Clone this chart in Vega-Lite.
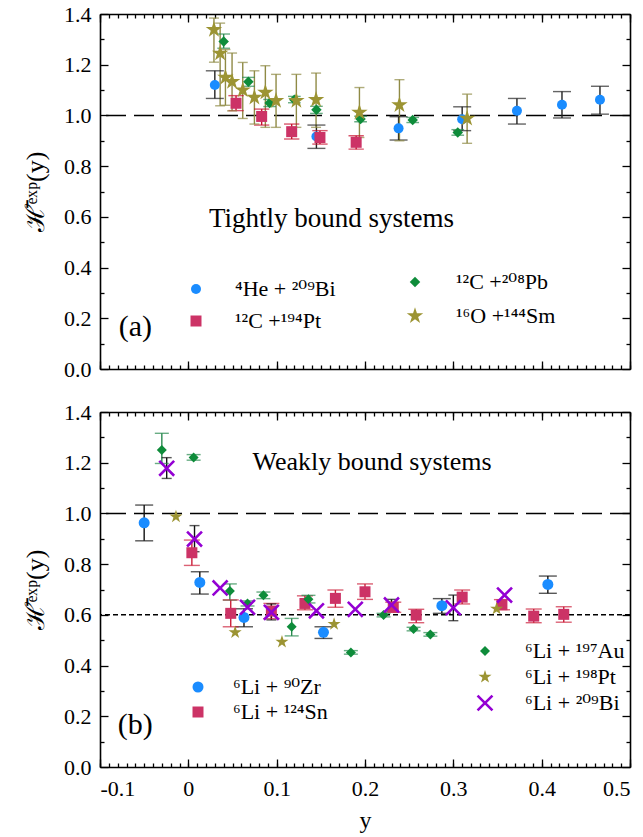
{
  "$schema": "https://vega.github.io/schema/vega-lite/v6.json",
  "padding": {"left": 22, "top": 3, "right": 12, "bottom": 8},
  "spacing": 43,
  "bounds": "flush",
  "config": {
    "font": "Liberation Serif, DejaVu Serif",
    "view": {"stroke": null},
    "axis": {"labelFont": "Liberation Serif", "labelFontSize": 22, "labelColor": "black", "titleFont": "Liberation Serif, DejaVu Serif", "titleColor": "black", "titleFontWeight": "normal", "domainColor": "black", "domainWidth": 1.6, "tickColor": "black", "tickWidth": 1.3, "grid": false},
    "legend": {"labelFont": "Liberation Serif, DejaVu Serif", "labelFontSize": 22, "labelColor": "black", "padding": 0}
  },
  "datasets": {
    "top": [
      {"sys": "⁴He + ²⁰⁹Bi", "x": 0.030, "y": 1.12, "lo": 1.067, "hi": 1.176},
      {"sys": "⁴He + ²⁰⁹Bi", "x": 0.145, "y": 0.917, "lo": 0.870, "hi": 0.962},
      {"sys": "⁴He + ²⁰⁹Bi", "x": 0.238, "y": 0.949, "lo": 0.903, "hi": 0.995},
      {"sys": "⁴He + ²⁰⁹Bi", "x": 0.310, "y": 0.985, "lo": 0.940, "hi": 1.034},
      {"sys": "⁴He + ²⁰⁹Bi", "x": 0.372, "y": 1.018, "lo": 0.966, "hi": 1.067},
      {"sys": "⁴He + ²⁰⁹Bi", "x": 0.423, "y": 1.042, "lo": 0.990, "hi": 1.094},
      {"sys": "⁴He + ²⁰⁹Bi", "x": 0.466, "y": 1.062, "lo": 1.005, "hi": 1.115},
      {"sys": "¹²C +¹⁹⁴Pt", "x": 0.054, "y": 1.048, "lo": 1.019, "hi": 1.078},
      {"sys": "¹²C +¹⁹⁴Pt", "x": 0.083, "y": 0.996, "lo": 0.962, "hi": 1.025},
      {"sys": "¹²C +¹⁹⁴Pt", "x": 0.117, "y": 0.936, "lo": 0.907, "hi": 0.966},
      {"sys": "¹²C +¹⁹⁴Pt", "x": 0.149, "y": 0.913, "lo": 0.887, "hi": 0.940},
      {"sys": "¹²C +¹⁹⁴Pt", "x": 0.190, "y": 0.894, "lo": 0.867, "hi": 0.920},
      {"sys": "¹²C +²⁰⁸Pb", "x": 0.040, "y": 1.292, "lo": 1.265, "hi": 1.321},
      {"sys": "¹²C +²⁰⁸Pb", "x": 0.068, "y": 1.133, "lo": 1.115, "hi": 1.150},
      {"sys": "¹²C +²⁰⁸Pb", "x": 0.092, "y": 1.049, "lo": 1.035, "hi": 1.063},
      {"sys": "¹²C +²⁰⁸Pb", "x": 0.120, "y": 1.062, "lo": 1.050, "hi": 1.075},
      {"sys": "¹²C +²⁰⁸Pb", "x": 0.145, "y": 1.022, "lo": 1.008, "hi": 1.036},
      {"sys": "¹²C +²⁰⁸Pb", "x": 0.195, "y": 0.986, "lo": 0.975, "hi": 0.997},
      {"sys": "¹²C +²⁰⁸Pb", "x": 0.254, "y": 0.982, "lo": 0.972, "hi": 0.992},
      {"sys": "¹²C +²⁰⁸Pb", "x": 0.305, "y": 0.933, "lo": 0.922, "hi": 0.944},
      {"sys": "¹⁶O +¹⁴⁴Sm", "x": 0.029, "y": 1.338, "lo": 1.210, "hi": 1.384},
      {"sys": "¹⁶O +¹⁴⁴Sm", "x": 0.036, "y": 1.245, "lo": 1.038, "hi": 1.364},
      {"sys": "¹⁶O +¹⁴⁴Sm", "x": 0.042, "y": 1.150, "lo": 1.040, "hi": 1.260},
      {"sys": "¹⁶O +¹⁴⁴Sm", "x": 0.0495, "y": 1.133, "lo": 1.018, "hi": 1.246},
      {"sys": "¹⁶O +¹⁴⁴Sm", "x": 0.0616, "y": 1.100, "lo": 0.988, "hi": 1.209},
      {"sys": "¹⁶O +¹⁴⁴Sm", "x": 0.0748, "y": 1.071, "lo": 0.966, "hi": 1.176},
      {"sys": "¹⁶O +¹⁴⁴Sm", "x": 0.0872, "y": 1.091, "lo": 0.953, "hi": 1.196},
      {"sys": "¹⁶O +¹⁴⁴Sm", "x": 0.0993, "y": 1.058, "lo": 0.953, "hi": 1.162},
      {"sys": "¹⁶O +¹⁴⁴Sm", "x": 0.1223, "y": 1.058, "lo": 0.953, "hi": 1.162},
      {"sys": "¹⁶O +¹⁴⁴Sm", "x": 0.1446, "y": 1.062, "lo": 0.953, "hi": 1.167},
      {"sys": "¹⁶O +¹⁴⁴Sm", "x": 0.1937, "y": 1.012, "lo": 0.913, "hi": 1.110},
      {"sys": "¹⁶O +¹⁴⁴Sm", "x": 0.239, "y": 1.041, "lo": 0.900, "hi": 1.141},
      {"sys": "¹⁶O +¹⁴⁴Sm", "x": 0.3156, "y": 0.988, "lo": 0.890, "hi": 1.084}
    ],
    "bottom": [
      {"sys": "⁶Li + ⁹⁰Zr", "x": -0.050, "y": 0.963, "lo": 0.892, "hi": 1.033},
      {"sys": "⁶Li + ⁹⁰Zr", "x": 0.013, "y": 0.728, "lo": 0.682, "hi": 0.770},
      {"sys": "⁶Li + ⁹⁰Zr", "x": 0.063, "y": 0.590, "lo": 0.553, "hi": 0.624},
      {"sys": "⁶Li + ⁹⁰Zr", "x": 0.153, "y": 0.531, "lo": 0.507, "hi": 0.553},
      {"sys": "⁶Li + ⁹⁰Zr", "x": 0.287, "y": 0.636, "lo": 0.606, "hi": 0.664},
      {"sys": "⁶Li + ⁹⁰Zr", "x": 0.407, "y": 0.720, "lo": 0.685, "hi": 0.753},
      {"sys": "⁶Li + ¹²⁴Sn", "x": 0.004, "y": 0.845, "lo": 0.795, "hi": 0.895},
      {"sys": "⁶Li + ¹²⁴Sn", "x": 0.048, "y": 0.606, "lo": 0.553, "hi": 0.659},
      {"sys": "⁶Li + ¹²⁴Sn", "x": 0.094, "y": 0.615, "lo": 0.585, "hi": 0.645},
      {"sys": "⁶Li + ¹²⁴Sn", "x": 0.132, "y": 0.645, "lo": 0.620, "hi": 0.675},
      {"sys": "⁶Li + ¹²⁴Sn", "x": 0.1665, "y": 0.665, "lo": 0.630, "hi": 0.698},
      {"sys": "⁶Li + ¹²⁴Sn", "x": 0.200, "y": 0.691, "lo": 0.661, "hi": 0.722},
      {"sys": "⁶Li + ¹²⁴Sn", "x": 0.232, "y": 0.630, "lo": 0.610, "hi": 0.650},
      {"sys": "⁶Li + ¹²⁴Sn", "x": 0.258, "y": 0.599, "lo": 0.569, "hi": 0.622},
      {"sys": "⁶Li + ¹²⁴Sn", "x": 0.310, "y": 0.670, "lo": 0.643, "hi": 0.698},
      {"sys": "⁶Li + ¹²⁴Sn", "x": 0.355, "y": 0.640, "lo": 0.620, "hi": 0.660},
      {"sys": "⁶Li + ¹²⁴Sn", "x": 0.391, "y": 0.595, "lo": 0.569, "hi": 0.623},
      {"sys": "⁶Li + ¹²⁴Sn", "x": 0.425, "y": 0.602, "lo": 0.571, "hi": 0.632},
      {"sys": "⁶Li + ¹⁹⁷Au", "x": -0.030, "y": 1.250, "lo": 1.197, "hi": 1.316},
      {"sys": "⁶Li + ¹⁹⁷Au", "x": 0.006, "y": 1.221, "lo": 1.210, "hi": 1.232},
      {"sys": "⁶Li + ¹⁹⁷Au", "x": 0.047, "y": 0.694, "lo": 0.658, "hi": 0.722},
      {"sys": "⁶Li + ¹⁹⁷Au", "x": 0.067, "y": 0.645, "lo": 0.635, "hi": 0.655},
      {"sys": "⁶Li + ¹⁹⁷Au", "x": 0.085, "y": 0.677, "lo": 0.664, "hi": 0.690},
      {"sys": "⁶Li + ¹⁹⁷Au", "x": 0.117, "y": 0.553, "lo": 0.517, "hi": 0.586},
      {"sys": "⁶Li + ¹⁹⁷Au", "x": 0.136, "y": 0.662, "lo": 0.647, "hi": 0.677},
      {"sys": "⁶Li + ¹⁹⁷Au", "x": 0.184, "y": 0.452, "lo": 0.445, "hi": 0.459},
      {"sys": "⁶Li + ¹⁹⁷Au", "x": 0.221, "y": 0.599, "lo": 0.592, "hi": 0.606},
      {"sys": "⁶Li + ¹⁹⁷Au", "x": 0.255, "y": 0.544, "lo": 0.537, "hi": 0.551},
      {"sys": "⁶Li + ¹⁹⁷Au", "x": 0.274, "y": 0.523, "lo": 0.516, "hi": 0.530},
      {"sys": "⁶Li + ¹⁹⁸Pt", "x": -0.014, "y": 0.987},
      {"sys": "⁶Li + ¹⁹⁸Pt", "x": 0.053, "y": 0.531},
      {"sys": "⁶Li + ¹⁹⁸Pt", "x": 0.106, "y": 0.493},
      {"sys": "⁶Li + ¹⁹⁸Pt", "x": 0.165, "y": 0.563},
      {"sys": "⁶Li + ¹⁹⁸Pt", "x": 0.349, "y": 0.624},
      {"sys": "⁶Li + ²⁰⁹Bi", "x": -0.0245, "y": 1.178, "lo": 1.138, "hi": 1.220},
      {"sys": "⁶Li + ²⁰⁹Bi", "x": 0.007, "y": 0.899, "lo": 0.849, "hi": 0.952},
      {"sys": "⁶Li + ²⁰⁹Bi", "x": 0.036, "y": 0.706},
      {"sys": "⁶Li + ²⁰⁹Bi", "x": 0.067, "y": 0.630},
      {"sys": "⁶Li + ²⁰⁹Bi", "x": 0.094, "y": 0.610, "lo": 0.580, "hi": 0.643},
      {"sys": "⁶Li + ²⁰⁹Bi", "x": 0.145, "y": 0.616},
      {"sys": "⁶Li + ²⁰⁹Bi", "x": 0.189, "y": 0.622},
      {"sys": "⁶Li + ²⁰⁹Bi", "x": 0.230, "y": 0.639, "lo": 0.615, "hi": 0.661},
      {"sys": "⁶Li + ²⁰⁹Bi", "x": 0.300, "y": 0.628, "lo": 0.577, "hi": 0.678},
      {"sys": "⁶Li + ²⁰⁹Bi", "x": 0.358, "y": 0.678}
    ]
  },
  "vconcat": [
    {
      "width": 530, "height": 355,
      "data": {"name": "top"},
      "resolve": {"scale": {"color": "independent", "shape": "independent", "size": "independent"}, "axis": {"x": "independent", "y": "independent"}},
      "layer": [
        {
          "data": {"values": [{}]},
          "mark": {"type": "rule", "strokeDash": [20, 8], "strokeWidth": 1.6, "color": "black"},
          "encoding": {"y": {"datum": 1, "type": "quantitative", "scale": {"domain": [0, 1.4], "nice": false}, "axis": {"orient": "left", "values": [0, 0.2, 0.4, 0.6, 0.8, 1.0, 1.2, 1.4], "ticks": false, "domain": true, "format": ".1f", "labelPadding": 9, "title": "ℋ̄ᵉˣᵖ(y)", "titleFontSize": 26, "titlePadding": 15}}}
        },
        {
          "transform": [{"filter": "datum.lo != null"}],
          "mark": {"type": "rule", "strokeWidth": 1.4},
          "encoding": {
            "x": {"field": "x", "type": "quantitative", "scale": {"domain": [-0.1, 0.5], "nice": false, "zero": false}, "axis": {"orient": "bottom", "values": [-0.1, 0, 0.1, 0.2, 0.3, 0.4, 0.5], "ticks": false, "domain": true, "labels": false, "title": null}},
            "y": {"field": "lo", "type": "quantitative", "axis": {"orient": "right", "values": [0, 0.2, 0.4, 0.6, 0.8, 1.0, 1.2, 1.4], "tickSize": -8, "domain": true, "labels": false, "title": null}},
            "y2": {"field": "hi"},
            "color": {"field": "sys", "type": "nominal", "scale": {"domain": ["⁴He + ²⁰⁹Bi", "¹²C +¹⁹⁴Pt", "¹²C +²⁰⁸Pb", "¹⁶O +¹⁴⁴Sm"], "range": ["#222222", "#c8102e", "#2a8a50", "#8f8a45"]}, "legend": null}
          }
        },
        {
          "transform": [{"filter": "datum.lo != null"}],
          "mark": {"type": "tick", "orient": "horizontal", "thickness": 1.4},
          "encoding": {
            "x": {"field": "x", "type": "quantitative", "axis": {"orient": "bottom", "values": [-0.1, 0, 0.1, 0.2, 0.3, 0.4, 0.5], "tickSize": -8, "domain": false, "labels": false, "title": null}},
            "y": {"field": "lo", "type": "quantitative", "axis": {"orient": "left", "values": [0, 0.2, 0.4, 0.6, 0.8, 1.0, 1.2, 1.4], "tickSize": -8, "domain": false, "labels": false, "title": null}},
            "color": {"field": "sys", "type": "nominal", "scale": {"domain": ["⁴He + ²⁰⁹Bi", "¹²C +¹⁹⁴Pt", "¹²C +²⁰⁸Pb", "¹⁶O +¹⁴⁴Sm"], "range": ["#222222", "#c8102e", "#2a8a50", "#8f8a45"]}, "legend": null},
            "size": {"field": "sys", "type": "nominal", "scale": {"domain": ["⁴He + ²⁰⁹Bi", "¹²C +¹⁹⁴Pt", "¹²C +²⁰⁸Pb", "¹⁶O +¹⁴⁴Sm"], "range": [18, 10, 8, 10]}, "legend": null}
          }
        },
        {
          "transform": [{"filter": "datum.lo != null"}],
          "mark": {"type": "tick", "orient": "horizontal", "thickness": 1.4},
          "encoding": {
            "x": {"field": "x", "type": "quantitative", "axis": {"orient": "bottom", "values": [-0.1,-0.09,-0.08,-0.07,-0.06,-0.05,-0.04,-0.03,-0.02,-0.01,0,0.01,0.02,0.03,0.04,0.05,0.06,0.07,0.08,0.09,0.1,0.11,0.12,0.13,0.14,0.15,0.16,0.17,0.18,0.19,0.2,0.21,0.22,0.23,0.24,0.25,0.26,0.27,0.28,0.29,0.3,0.31,0.32,0.33,0.34,0.35,0.36,0.37,0.38,0.39,0.4,0.41,0.42,0.43,0.44,0.45,0.46,0.47,0.48,0.49,0.5], "tickSize": -4, "domain": false, "labels": false, "title": null}},
            "y": {"field": "hi", "type": "quantitative", "axis": {"orient": "left", "values": [0.1, 0.3, 0.5, 0.7, 0.9, 1.1, 1.3], "tickSize": -4, "domain": false, "labels": false, "title": null}},
            "color": {"field": "sys", "type": "nominal", "scale": {"domain": ["⁴He + ²⁰⁹Bi", "¹²C +¹⁹⁴Pt", "¹²C +²⁰⁸Pb", "¹⁶O +¹⁴⁴Sm"], "range": ["#222222", "#c8102e", "#2a8a50", "#8f8a45"]}, "legend": null},
            "size": {"field": "sys", "type": "nominal", "scale": {"domain": ["⁴He + ²⁰⁹Bi", "¹²C +¹⁹⁴Pt", "¹²C +²⁰⁸Pb", "¹⁶O +¹⁴⁴Sm"], "range": [18, 10, 8, 10]}, "legend": null}
          }
        },
        {
          "transform": [{"filter": {"field": "sys", "oneOf": ["⁴He + ²⁰⁹Bi", "¹²C +¹⁹⁴Pt"]}}],
          "mark": {"type": "point", "filled": true, "opacity": 1, "strokeWidth": 0},
          "encoding": {
            "x": {"field": "x", "type": "quantitative", "axis": {"orient": "top", "values": [-0.1, 0, 0.1, 0.2, 0.3, 0.4, 0.5], "tickSize": -8, "domain": true, "labels": false, "title": null}},
            "y": {"field": "y", "type": "quantitative", "axis": {"orient": "right", "values": [0.1, 0.3, 0.5, 0.7, 0.9, 1.1, 1.3], "tickSize": -4, "domain": false, "labels": false, "title": null}},
            "color": {"field": "sys", "type": "nominal", "scale": {"domain": ["⁴He + ²⁰⁹Bi", "¹²C +¹⁹⁴Pt"], "range": ["#1a8cff", "#cc3366"]}, "legend": {"orient": "none", "legendX": 85, "legendY": 264, "title": null, "labelOffset": 28, "rowPadding": 10, "symbolStrokeWidth": 0}},
            "shape": {"field": "sys", "type": "nominal", "scale": {"domain": ["⁴He + ²⁰⁹Bi", "¹²C +¹⁹⁴Pt"], "range": ["circle", "square"]}, "legend": {"orient": "none", "legendX": 85, "legendY": 264, "title": null, "labelOffset": 28, "rowPadding": 10, "symbolStrokeWidth": 0}},
            "size": {"field": "sys", "type": "nominal", "scale": {"domain": ["⁴He + ²⁰⁹Bi", "¹²C +¹⁹⁴Pt"], "range": [100, 121]}, "legend": {"orient": "none", "legendX": 85, "legendY": 264, "title": null, "labelOffset": 28, "rowPadding": 10, "symbolStrokeWidth": 0}}
          }
        },
        {
          "transform": [{"filter": {"field": "sys", "oneOf": ["¹²C +²⁰⁸Pb", "¹⁶O +¹⁴⁴Sm"]}}],
          "mark": {"type": "point", "filled": true, "opacity": 1, "strokeWidth": 0},
          "encoding": {
            "x": {"field": "x", "type": "quantitative", "axis": {"orient": "top", "values": [-0.1,-0.09,-0.08,-0.07,-0.06,-0.05,-0.04,-0.03,-0.02,-0.01,0,0.01,0.02,0.03,0.04,0.05,0.06,0.07,0.08,0.09,0.1,0.11,0.12,0.13,0.14,0.15,0.16,0.17,0.18,0.19,0.2,0.21,0.22,0.23,0.24,0.25,0.26,0.27,0.28,0.29,0.3,0.31,0.32,0.33,0.34,0.35,0.36,0.37,0.38,0.39,0.4,0.41,0.42,0.43,0.44,0.45,0.46,0.47,0.48,0.49,0.5], "tickSize": -4, "domain": false, "labels": false, "title": null}},
            "y": {"field": "y", "type": "quantitative", "axis": null},
            "color": {"field": "sys", "type": "nominal", "scale": {"domain": ["¹²C +²⁰⁸Pb", "¹⁶O +¹⁴⁴Sm"], "range": ["#0e8c3a", "#9c9433"]}, "legend": {"orient": "none", "legendX": 304, "legendY": 257, "title": null, "labelOffset": 30, "rowPadding": 12, "symbolStrokeWidth": 0}},
            "shape": {"field": "sys", "type": "nominal", "scale": {"domain": ["¹²C +²⁰⁸Pb", "¹⁶O +¹⁴⁴Sm"], "range": ["diamond", "M0,-1L0.2245,-0.309L0.951,-0.309L0.363,0.118L0.588,0.809L0,0.382L-0.588,0.809L-0.363,0.118L-0.951,-0.309L-0.2245,-0.309Z"]}, "legend": {"orient": "none", "legendX": 304, "legendY": 257, "title": null, "labelOffset": 30, "rowPadding": 12, "symbolStrokeWidth": 0}},
            "size": {"field": "sys", "type": "nominal", "scale": {"domain": ["¹²C +²⁰⁸Pb", "¹⁶O +¹⁴⁴Sm"], "range": [110, 300]}, "legend": {"orient": "none", "legendX": 304, "legendY": 257, "title": null, "labelOffset": 30, "rowPadding": 12, "symbolStrokeWidth": 0}}
          }
        },
        {
          "data": {"values": [{}]},
          "mark": {"type": "text", "fontSize": 27, "color": "black", "align": "center", "baseline": "middle"},
          "encoding": {"x": {"datum": 0.162, "type": "quantitative", "axis": null}, "y": {"datum": 0.59, "type": "quantitative", "axis": null}, "text": {"value": "Tightly bound systems"}}
        },
        {
          "data": {"values": [{}]},
          "mark": {"type": "text", "fontSize": 30, "color": "black", "align": "center", "baseline": "middle"},
          "encoding": {"x": {"datum": -0.06, "type": "quantitative", "axis": null}, "y": {"datum": 0.166, "type": "quantitative", "axis": null}, "text": {"value": "(a)"}}
        }
      ]
    },
    {
      "width": 530, "height": 355,
      "data": {"name": "bottom"},
      "resolve": {"scale": {"color": "independent", "shape": "independent", "size": "independent"}, "axis": {"x": "independent", "y": "independent"}},
      "layer": [
        {
          "data": {"values": [{}]},
          "mark": {"type": "rule", "strokeDash": [20, 8], "strokeWidth": 1.6, "color": "black"},
          "encoding": {"y": {"datum": 1, "type": "quantitative", "scale": {"domain": [0, 1.4], "nice": false}, "axis": {"orient": "left", "values": [0, 0.2, 0.4, 0.6, 0.8, 1.0, 1.2, 1.4], "ticks": false, "domain": true, "format": ".1f", "labelPadding": 9, "title": "ℋ̄ᵉˣᵖ(y)", "titleFontSize": 26, "titlePadding": 15}}}
        },
        {
          "data": {"values": [{}]},
          "mark": {"type": "rule", "strokeDash": [5, 3], "strokeWidth": 1.5, "color": "black"},
          "encoding": {"y": {"datum": 0.6, "type": "quantitative", "axis": null}}
        },
        {
          "transform": [{"filter": "datum.lo != null"}],
          "mark": {"type": "rule", "strokeWidth": 1.4},
          "encoding": {
            "x": {"field": "x", "type": "quantitative", "scale": {"domain": [-0.1, 0.5], "nice": false, "zero": false}, "axis": {"orient": "bottom", "values": [-0.1, 0, 0.1, 0.2, 0.3, 0.4, 0.5], "ticks": false, "domain": true, "labels": true, "labelExpr": "datum.value == 0 ? '0' : (datum.value < 0 ? '-' + format(-datum.value, '.1f') : format(datum.value, '.1f'))", "labelPadding": 11, "title": "y", "titleFontSize": 24, "titlePadding": 9}},
            "y": {"field": "lo", "type": "quantitative", "axis": {"orient": "right", "values": [0, 0.2, 0.4, 0.6, 0.8, 1.0, 1.2, 1.4], "tickSize": -8, "domain": true, "labels": false, "title": null}},
            "y2": {"field": "hi"},
            "color": {"field": "sys", "type": "nominal", "scale": {"domain": ["⁶Li + ⁹⁰Zr", "⁶Li + ¹²⁴Sn", "⁶Li + ¹⁹⁷Au", "⁶Li + ¹⁹⁸Pt", "⁶Li + ²⁰⁹Bi"], "range": ["#111111", "#cc1f3a", "#2a8a50", "#8f8a45", "#111111"]}, "legend": null}
          }
        },
        {
          "transform": [{"filter": "datum.lo != null"}],
          "mark": {"type": "tick", "orient": "horizontal", "thickness": 1.4},
          "encoding": {
            "x": {"field": "x", "type": "quantitative", "axis": {"orient": "bottom", "values": [-0.1, 0, 0.1, 0.2, 0.3, 0.4, 0.5], "tickSize": -8, "domain": false, "labels": false, "title": null}},
            "y": {"field": "lo", "type": "quantitative", "axis": {"orient": "left", "values": [0, 0.2, 0.4, 0.6, 0.8, 1.0, 1.2, 1.4], "tickSize": -8, "domain": false, "labels": false, "title": null}},
            "color": {"field": "sys", "type": "nominal", "scale": {"domain": ["⁶Li + ⁹⁰Zr", "⁶Li + ¹²⁴Sn", "⁶Li + ¹⁹⁷Au", "⁶Li + ¹⁹⁸Pt", "⁶Li + ²⁰⁹Bi"], "range": ["#111111", "#cc1f3a", "#2a8a50", "#8f8a45", "#111111"]}, "legend": null},
            "size": {"field": "sys", "type": "nominal", "scale": {"domain": ["⁶Li + ⁹⁰Zr", "⁶Li + ¹²⁴Sn", "⁶Li + ¹⁹⁷Au", "⁶Li + ¹⁹⁸Pt", "⁶Li + ²⁰⁹Bi"], "range": [18, 10, 8, 10, 9]}, "legend": null}
          }
        },
        {
          "transform": [{"filter": "datum.lo != null"}],
          "mark": {"type": "tick", "orient": "horizontal", "thickness": 1.4},
          "encoding": {
            "x": {"field": "x", "type": "quantitative", "axis": {"orient": "bottom", "values": [-0.1,-0.09,-0.08,-0.07,-0.06,-0.05,-0.04,-0.03,-0.02,-0.01,0,0.01,0.02,0.03,0.04,0.05,0.06,0.07,0.08,0.09,0.1,0.11,0.12,0.13,0.14,0.15,0.16,0.17,0.18,0.19,0.2,0.21,0.22,0.23,0.24,0.25,0.26,0.27,0.28,0.29,0.3,0.31,0.32,0.33,0.34,0.35,0.36,0.37,0.38,0.39,0.4,0.41,0.42,0.43,0.44,0.45,0.46,0.47,0.48,0.49,0.5], "tickSize": -4, "domain": false, "labels": false, "title": null}},
            "y": {"field": "hi", "type": "quantitative", "axis": {"orient": "left", "values": [0.1, 0.3, 0.5, 0.7, 0.9, 1.1, 1.3], "tickSize": -4, "domain": false, "labels": false, "title": null}},
            "color": {"field": "sys", "type": "nominal", "scale": {"domain": ["⁶Li + ⁹⁰Zr", "⁶Li + ¹²⁴Sn", "⁶Li + ¹⁹⁷Au", "⁶Li + ¹⁹⁸Pt", "⁶Li + ²⁰⁹Bi"], "range": ["#111111", "#cc1f3a", "#2a8a50", "#8f8a45", "#111111"]}, "legend": null},
            "size": {"field": "sys", "type": "nominal", "scale": {"domain": ["⁶Li + ⁹⁰Zr", "⁶Li + ¹²⁴Sn", "⁶Li + ¹⁹⁷Au", "⁶Li + ¹⁹⁸Pt", "⁶Li + ²⁰⁹Bi"], "range": [18, 10, 8, 10, 9]}, "legend": null}
          }
        },
        {
          "transform": [{"filter": {"field": "sys", "oneOf": ["⁶Li + ⁹⁰Zr", "⁶Li + ¹²⁴Sn"]}}],
          "mark": {"type": "point", "filled": true, "opacity": 1, "strokeWidth": 0},
          "encoding": {
            "x": {"field": "x", "type": "quantitative", "axis": {"orient": "top", "values": [-0.1, 0, 0.1, 0.2, 0.3, 0.4, 0.5], "tickSize": -8, "domain": true, "labels": false, "title": null}},
            "y": {"field": "y", "type": "quantitative", "axis": {"orient": "right", "values": [0.1, 0.3, 0.5, 0.7, 0.9, 1.1, 1.3], "tickSize": -4, "domain": false, "labels": false, "title": null}},
            "color": {"field": "sys", "type": "nominal", "scale": {"domain": ["⁶Li + ⁹⁰Zr", "⁶Li + ¹²⁴Sn"], "range": ["#1a8cff", "#cc3366"]}, "legend": {"orient": "none", "legendX": 87, "legendY": 264, "title": null, "labelOffset": 24, "rowPadding": 3, "symbolStrokeWidth": 0}},
            "shape": {"field": "sys", "type": "nominal", "scale": {"domain": ["⁶Li + ⁹⁰Zr", "⁶Li + ¹²⁴Sn"], "range": ["circle", "square"]}, "legend": {"orient": "none", "legendX": 87, "legendY": 264, "title": null, "labelOffset": 24, "rowPadding": 3, "symbolStrokeWidth": 0}},
            "size": {"field": "sys", "type": "nominal", "scale": {"domain": ["⁶Li + ⁹⁰Zr", "⁶Li + ¹²⁴Sn"], "range": [121, 121]}, "legend": {"orient": "none", "legendX": 87, "legendY": 264, "title": null, "labelOffset": 24, "rowPadding": 3, "symbolStrokeWidth": 0}}
          }
        },
        {
          "transform": [{"filter": {"field": "sys", "oneOf": ["⁶Li + ¹⁹⁷Au", "⁶Li + ¹⁹⁸Pt", "⁶Li + ²⁰⁹Bi"]}}],
          "mark": {"type": "point", "filled": true, "opacity": 1, "strokeWidth": 0},
          "encoding": {
            "x": {"field": "x", "type": "quantitative", "axis": {"orient": "top", "values": [-0.1,-0.09,-0.08,-0.07,-0.06,-0.05,-0.04,-0.03,-0.02,-0.01,0,0.01,0.02,0.03,0.04,0.05,0.06,0.07,0.08,0.09,0.1,0.11,0.12,0.13,0.14,0.15,0.16,0.17,0.18,0.19,0.2,0.21,0.22,0.23,0.24,0.25,0.26,0.27,0.28,0.29,0.3,0.31,0.32,0.33,0.34,0.35,0.36,0.37,0.38,0.39,0.4,0.41,0.42,0.43,0.44,0.45,0.46,0.47,0.48,0.49,0.5], "tickSize": -4, "domain": false, "labels": false, "title": null}},
            "y": {"field": "y", "type": "quantitative", "axis": null},
            "color": {"field": "sys", "type": "nominal", "scale": {"domain": ["⁶Li + ¹⁹⁷Au", "⁶Li + ¹⁹⁸Pt", "⁶Li + ²⁰⁹Bi"], "range": ["#0e8c3a", "#9c9433", "#9400d3"]}, "legend": {"orient": "none", "legendX": 374, "legendY": 228, "title": null, "labelOffset": 29, "rowPadding": 4, "symbolStrokeWidth": 0}},
            "shape": {"field": "sys", "type": "nominal", "scale": {"domain": ["⁶Li + ¹⁹⁷Au", "⁶Li + ¹⁹⁸Pt", "⁶Li + ²⁰⁹Bi"], "range": ["diamond", "M0,-1L0.2245,-0.309L0.951,-0.309L0.363,0.118L0.588,0.809L0,0.382L-0.588,0.809L-0.363,0.118L-0.951,-0.309L-0.2245,-0.309Z", "M-1,-0.78L-0.78,-1L0,-0.22L0.78,-1L1,-0.78L0.22,0L1,0.78L0.78,1L0,0.22L-0.78,1L-1,0.78L-0.22,0Z"]}, "legend": {"orient": "none", "legendX": 374, "legendY": 228, "title": null, "labelOffset": 29, "rowPadding": 4, "symbolStrokeWidth": 0}},
            "size": {"field": "sys", "type": "nominal", "scale": {"domain": ["⁶Li + ¹⁹⁷Au", "⁶Li + ¹⁹⁸Pt", "⁶Li + ²⁰⁹Bi"], "range": [100, 280, 225]}, "legend": {"orient": "none", "legendX": 374, "legendY": 228, "title": null, "labelOffset": 29, "rowPadding": 4, "symbolStrokeWidth": 0}}
          }
        },
        {
          "data": {"values": [{}]},
          "mark": {"type": "text", "fontSize": 26, "color": "black", "align": "center", "baseline": "middle"},
          "encoding": {"x": {"datum": 0.208, "type": "quantitative", "axis": null}, "y": {"datum": 1.203, "type": "quantitative", "axis": null}, "text": {"value": "Weakly bound systems"}}
        },
        {
          "data": {"values": [{}]},
          "mark": {"type": "text", "fontSize": 30, "color": "black", "align": "center", "baseline": "middle"},
          "encoding": {"x": {"datum": -0.06, "type": "quantitative", "axis": null}, "y": {"datum": 0.166, "type": "quantitative", "axis": null}, "text": {"value": "(b)"}}
        }
      ]
    }
  ]
}
